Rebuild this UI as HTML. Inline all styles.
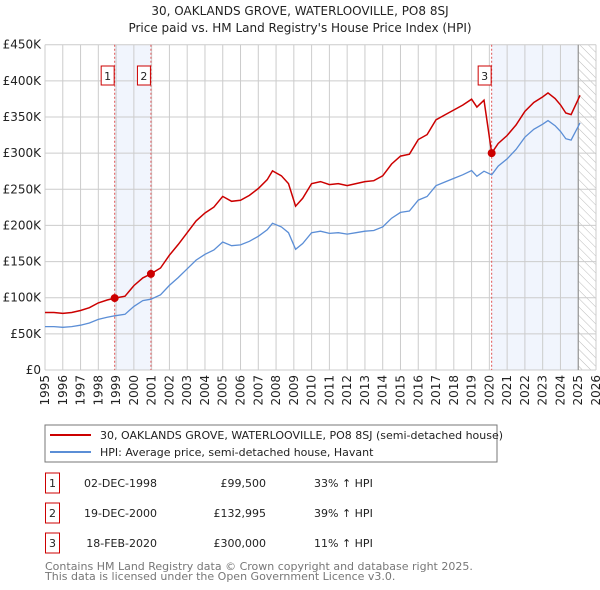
<!DOCTYPE html>
<html><head><meta charset="utf-8"><style>
body{margin:0;background:#fff;font-family:"DejaVu Sans","Liberation Sans",sans-serif;}
svg{display:block}
</style></head><body>
<svg width="600" height="590" xmlns="http://www.w3.org/2000/svg" font-family="DejaVu Sans, Liberation Sans, sans-serif">
<defs>
<pattern id="hatch" width="6" height="6" patternUnits="userSpaceOnUse" patternTransform="rotate(-45)"><line x1="0" y1="0" x2="0" y2="6" stroke="#bbb" stroke-width="1"/></pattern>
</defs>
<text x="300" y="15" text-anchor="middle" font-size="12" fill="#222">30, OAKLANDS GROVE, WATERLOOVILLE, PO8 8SJ</text>
<text x="300" y="32" text-anchor="middle" font-size="12" fill="#222">Price paid vs. HM Land Registry's House Price Index (HPI)</text>
<g id="plot"></g>
<rect x="45" y="425" width="452" height="37" fill="#fff" stroke="#777"/>
<line x1="50" y1="435" x2="91" y2="435" stroke="#cc0000" stroke-width="2"/>
<text x="100" y="439" font-size="11" fill="#222">30, OAKLANDS GROVE, WATERLOOVILLE, PO8 8SJ (semi-detached house)</text>
<line x1="50" y1="452" x2="91" y2="452" stroke="#5b8ed6" stroke-width="2"/>
<text x="100" y="456" font-size="11" fill="#222">HPI: Average price, semi-detached house, Havant</text>
<g id="table" font-size="11" fill="#222"></g>
<text x="45" y="570" font-size="11" fill="#777">Contains HM Land Registry data © Crown copyright and database right 2025.</text>
<text x="45" y="580" font-size="11" fill="#777">This data is licensed under the Open Government Licence v3.0.</text>
</svg>
<script>
const hpiT=[1995,1995.5,1996,1996.5,1997,1997.5,1998,1998.5,1998.92,1999.5,2000,2000.5,2000.96,2001.5,2002,2002.5,2003,2003.5,2004,2004.5,2005,2005.5,2006,2006.5,2007,2007.5,2007.8,2008.3,2008.7,2009.1,2009.5,2010,2010.5,2011,2011.5,2012,2012.5,2013,2013.5,2014,2014.5,2015,2015.5,2016,2016.5,2017,2017.5,2018,2018.5,2019,2019.3,2019.7,2020.13,2020.5,2021,2021.5,2022,2022.5,2023,2023.3,2023.7,2024,2024.3,2024.6,2025,2025.1];
const hpiV=[60,60,59,60,62,65,70,73,75,77,88,96,98,104,117,128,140,152,160,166,177,172,173,178,185,194,203,198,190,167,175,190,192,189,190,188,190,192,193,198,210,218,220,235,240,255,260,265,270,276,268,275,270,282,292,305,322,333,340,345,338,330,320,318,337,342];
const saleT=[1998.92,2000.96,2020.13];
const saleV=[99.5,132.995,300];
const saleLabel=["1","2","3"];
const saleDate=["02-DEC-1998","19-DEC-2000","18-FEB-2020"];
const salePrice=["£99,500","£132,995","£300,000"];
const salePct=["33% ↑ HPI","39% ↑ HPI","11% ↑ HPI"];
const yTicks=[0,50,100,150,200,250,300,350,400,450];
const yTickLabels=["£0","£50K","£100K","£150K","£200K","£250K","£300K","£350K","£400K","£450K"];
const years=[1995,1996,1997,1998,1999,2000,2001,2002,2003,2004,2005,2006,2007,2008,2009,2010,2011,2012,2013,2014,2015,2016,2017,2018,2019,2020,2021,2022,2023,2024,2025,2026];

const NS="http://www.w3.org/2000/svg";
const X0=45,X1=596,Y0=370,Y1=44.7;
const xS=t=>X0+(t-1995)/(2026-1995)*(X1-X0);
const yS=v=>Y0-v/450*(Y0-Y1);
const plot=document.getElementById('plot');
function mk(tag,a,parent){const e=document.createElementNS(NS,tag);for(const k in a)e.setAttribute(k,a[k]);(parent||plot).appendChild(e);return e;}
function hpiAt(t){for(let i=0;i<hpiT.length-1;i++){if(t<=hpiT[i+1]){const f=(t-hpiT[i])/(hpiT[i+1]-hpiT[i]);return hpiV[i]+f*(hpiV[i+1]-hpiV[i]);}}return hpiV[hpiV.length-1];}

let e=mk('rect',{x:xS(saleT[0]),y:Y1,width:xS(saleT[1])-xS(saleT[0]),height:Y0-Y1,fill:'#eef3fc',opacity:0.8});

e=mk('rect',{x:xS(saleT[2]),y:Y1,width:xS(2025)-xS(saleT[2]),height:Y0-Y1,fill:'#eef3fc',opacity:0.8});

e=mk('rect',{x:xS(2025),y:Y1,width:X1-xS(2025),height:Y0-Y1,fill:'url(#hatch)'});

yTicks.forEach((v,i)=>{
 const g=mk('line',{x1:X0,x2:X1,y1:yS(v),y2:yS(v),stroke:'#ccc','stroke-width':1});
 
 const t=mk('text',{x:X0-4,y:yS(v)+4,'text-anchor':'end','font-size':12,fill:'#222'});
 t.textContent=yTickLabels[i];
 
});
years.forEach(y=>{
 const g=mk('line',{x1:xS(y),x2:xS(y),y1:Y1,y2:Y0,stroke:'#ccc','stroke-width':1});
 
 const t=mk('text',{x:0,y:0,'text-anchor':'end','font-size':12,fill:'#222',transform:`translate(${xS(y)+4},375) rotate(-90)`});
 t.textContent=y;
 
});
e=mk('line',{x1:xS(2025),x2:xS(2025),y1:Y1,y2:Y0,stroke:'#888','stroke-width':1});

saleT.forEach((t,i)=>{
 const l=mk('line',{x1:xS(t),x2:xS(t),y1:Y1,y2:Y0,stroke:'#e05555','stroke-width':1,'stroke-dasharray':'2,2'});
 
});
let d='';hpiT.forEach((t,i)=>{d+=(i?'L':'M')+xS(t).toFixed(1)+','+yS(hpiV[i]).toFixed(1);});
e=mk('path',{d:d,fill:'none',stroke:'#5b8ed6','stroke-width':1.3});

function ratioAt(t){let k=0;for(let i=0;i<saleT.length;i++)if(t>=saleT[i])k=i;return saleV[k]/hpiAt(saleT[k]);}
let pts=[];
hpiT.forEach((t,i)=>{
 saleT.forEach((s,k)=>{if(i>0&&hpiT[i-1]<s&&t>s){pts.push([s,hpiAt(s)*ratioAt(s-1e-6)]);pts.push([s,saleV[k]]);}});
 pts.push([t,hpiV[i]*ratioAt(t)]);
});
d='';pts.forEach((p,i)=>{d+=(i?'L':'M')+xS(p[0]).toFixed(1)+','+yS(p[1]).toFixed(1);});
e=mk('path',{d:d,fill:'none',stroke:'#cc0000','stroke-width':1.5});

saleT.forEach((t,i)=>{
 const c=mk('circle',{cx:xS(t),cy:yS(saleV[i]),r:4,fill:'#cc0000'});
 
 const bx=xS(t)-13;
 const r=mk('rect',{x:bx-0.5,y:66,width:13,height:19,fill:'#fff',stroke:'#cc0000'});
 
 const tx=mk('text',{x:bx+6,y:80,'text-anchor':'middle','font-size':11,fill:'#222'});
 tx.textContent=saleLabel[i];
 
});
const tb=document.getElementById('table');
saleT.forEach((t,i)=>{
 const cy=483+i*30;
 const r=mk('rect',{x:45.5,y:cy-10,width:14,height:20,fill:'#fff',stroke:'#cc0000'},tb);
 
 let tx=mk('text',{x:52.5,y:cy+4,'text-anchor':'middle'},tb);tx.textContent=saleLabel[i];
 
 tx=mk('text',{x:157,y:cy+4,'text-anchor':'end'},tb);tx.textContent=saleDate[i];
 
 tx=mk('text',{x:266,y:cy+4,'text-anchor':'end'},tb);tx.textContent=salePrice[i];
 
 tx=mk('text',{x:314,y:cy+4},tb);tx.textContent=salePct[i];
 
});
</script>
</body></html>
